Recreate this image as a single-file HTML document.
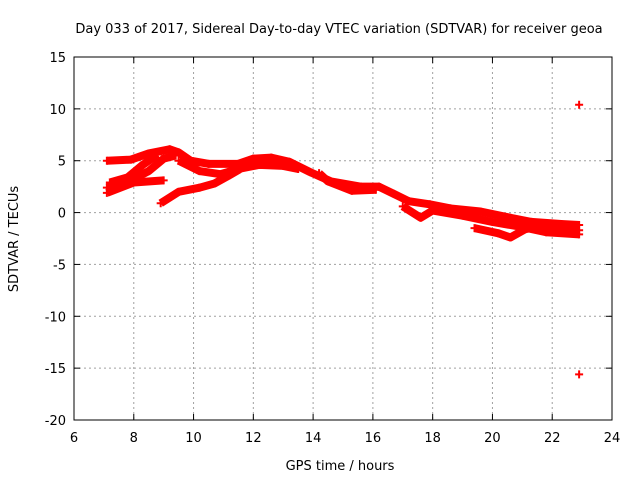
<!DOCTYPE html>
<html><head><meta charset="utf-8"><style>
body{margin:0;background:#fff}
text{font-family:"DejaVu Sans","Liberation Sans",sans-serif;font-size:13px;fill:#000}
</style></head><body>
<svg id="c" width="640" height="480" xmlns="http://www.w3.org/2000/svg">
<rect width="640" height="480" fill="#fff"/>
<text x="339" y="33" text-anchor="middle" font-size="15">Day 033 of 2017, Sidereal Day-to-day VTEC variation (SDTVAR) for receiver geoa</text>
<text x="340" y="470" text-anchor="middle">GPS time / hours</text>
<text transform="translate(18,239) rotate(-90)" text-anchor="middle">SDTVAR / TECUs</text>
<g id="grid"></g><g id="ticks"></g><g id="marks"></g>
<rect x="74" y="57" width="538" height="363" fill="none" stroke="#000"/>
</svg>
<script>
const xTicks=[6,8,10,12,14,16,18,20,22,24];
const yTicks=[15,10,5,0,-5,-10,-15,-20];
const trackA=[[7.1,5.0],[7.9,5.1],[8.5,5.7],[9.2,6.1],[9.5,5.8],[9.9,5.0],[10.5,4.7],[11.5,4.7],[12.0,5.2],[12.6,5.3],[13.2,4.9],[13.9,3.9],[14.6,3.0],[15.6,2.5],[16.2,2.5],[16.7,1.8],[17.2,1.1],[17.9,0.8],[18.6,0.4],[19.6,0.1],[20.6,-0.5],[21.3,-0.9],[22.3,-1.1],[22.9,-1.2]];
const trackB=[[7.1,2.4],[7.9,3.1],[8.5,4.0],[9.0,5.2],[9.4,5.5]];
const trackC=[[7.1,1.9],[8.0,2.9],[9.0,3.1]];
const trackD=[[7.2,2.9],[7.8,3.4],[8.3,4.6],[8.8,5.6]];
const trackE=[[8.9,0.9],[9.5,2.0],[10.2,2.4],[10.7,2.8],[11.2,3.6],[11.5,4.1],[11.9,5.0]];
const trackF=[[9.5,5.0],[10.2,4.0],[10.9,3.7],[11.5,4.2],[12.2,4.6],[13.0,4.5],[13.5,4.2]];
const trackG=[[19.4,-1.5],[20.2,-2.0],[20.6,-2.4],[21.1,-1.6],[21.8,-1.2],[22.9,-1.7]];
const trackH=[[17.0,0.6],[17.6,-0.5],[18.0,0.2],[19.0,-0.3],[20.0,-0.9],[21.0,-1.4],[21.8,-1.9],[22.9,-2.1]];
const trackI=[[14.2,3.8],[14.5,3.0],[15.3,2.1],[16.1,2.2]];
const outliers=[[22.9,10.4],[22.9,-15.6]];
const tracks=[trackA,trackB,trackC,trackD,trackE,trackF,trackG,trackH,trackI];
const X=v=>74+(v-6)*538/18, Y=v=>57+(15-v)*363/35;
const NS="http://www.w3.org/2000/svg";
function mk(t,a,p){const e=document.createElementNS(NS,t);for(const k in a)e.setAttribute(k,a[k]);p.appendChild(e);return e;}
const grid=document.getElementById('grid'),ticks=document.getElementById('ticks'),marks=document.getElementById('marks');
xTicks.forEach(v=>{const x=X(v);
 if(v>6&&v<24){const l=mk('line',{x1:x,x2:x,y1:57,y2:420,stroke:'#a0a0a0','stroke-dasharray':'2,3'},grid);
 
 }
 mk('line',{x1:x,x2:x,y1:420,y2:414,stroke:'#000'},ticks);mk('line',{x1:x,x2:x,y1:57,y2:63,stroke:'#000'},ticks);
 const t=mk('text',{x:x,y:442,'text-anchor':'middle'},ticks);t.textContent=v;
 
 });
yTicks.forEach(v=>{const y=Y(v);
 if(v>-20&&v<15){const l=mk('line',{x1:74,x2:612,y1:y,y2:y,stroke:'#a0a0a0','stroke-dasharray':'2,3'},grid);
 
 }
 mk('line',{x1:74,x2:80,y1:y,y2:y,stroke:'#000'},ticks);mk('line',{x1:612,x2:606,y1:y,y2:y,stroke:'#000'},ticks);
 const t=mk('text',{x:66,y:y+5,'text-anchor':'end'},ticks);t.textContent=v;
 
 });
tracks.forEach(tr=>{
 const p=mk('polyline',{points:tr.map(d=>X(d[0])+','+Y(d[1])).join(' '),fill:'none',stroke:'#f00','stroke-width':8,'stroke-linejoin':'round'},marks);
 
 });
tracks.concat([outliers]).forEach(tr=>tr.forEach(d=>{
 const x=X(d[0]),y=Y(d[1]);
 const g=mk('path',{d:`M${x-4},${y}H${x+4}M${x},${y-4}V${y+4}`,stroke:'#f00','stroke-width':2},marks);
 
 }));
</script>
</body></html>
